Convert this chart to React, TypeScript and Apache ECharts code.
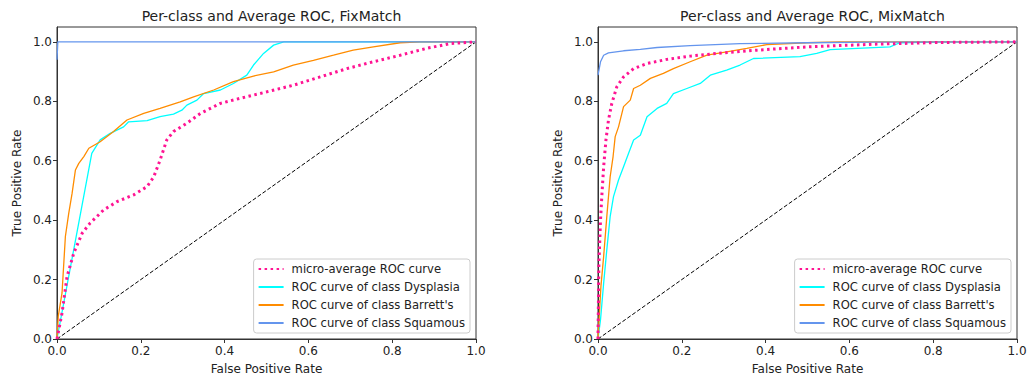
import React, { useEffect, useRef } from "react";
import * as echarts from "echarts";

const panelTitles = ["Per-class and Average ROC, FixMatch", "Per-class and Average ROC, MixMatch"];
const seriesNames = [
  "micro-average ROC curve",
  "ROC curve of class Dysplasia",
  "ROC curve of class Barrett's",
  "ROC curve of class Squamous",
];

// FixMatch
const fixMicro = [
  [0, 0], [0.012, 0.087], [0.024, 0.21], [0.04, 0.289], [0.06, 0.356], [0.079, 0.39],
  [0.111, 0.434], [0.143, 0.462], [0.183, 0.485], [0.215, 0.513], [0.231, 0.546],
  [0.246, 0.602], [0.262, 0.67], [0.278, 0.698], [0.31, 0.726], [0.342, 0.759],
  [0.39, 0.793], [0.437, 0.81], [0.501, 0.832], [0.564, 0.854], [0.628, 0.882],
  [0.692, 0.91], [0.755, 0.933], [0.819, 0.955], [0.882, 0.978], [0.938, 0.994], [1, 1],
];
const fixDysplasia = [
  [0, 0], [0.083, 0.625], [0.103, 0.67], [0.127, 0.692], [0.159, 0.714], [0.171, 0.731],
  [0.215, 0.735], [0.246, 0.748], [0.278, 0.757], [0.298, 0.77], [0.31, 0.787],
  [0.334, 0.804], [0.35, 0.826], [0.39, 0.838], [0.421, 0.86], [0.453, 0.888],
  [0.469, 0.922], [0.493, 0.961], [0.517, 0.989], [0.541, 1.0], [1, 1],
];
const fixBarretts = [
  [0, 0], [0.003, 0.076], [0.012, 0.155], [0.02, 0.345], [0.028, 0.423], [0.036, 0.49],
  [0.044, 0.569], [0.052, 0.591], [0.064, 0.614], [0.076, 0.642], [0.103, 0.664],
  [0.135, 0.698], [0.167, 0.737], [0.207, 0.759], [0.246, 0.776], [0.294, 0.798],
  [0.326, 0.815], [0.374, 0.838], [0.421, 0.866], [0.469, 0.885], [0.517, 0.899],
  [0.564, 0.922], [0.612, 0.938], [0.66, 0.955], [0.707, 0.972], [0.755, 0.983],
  [0.819, 0.997], [0.866, 1.0], [1, 1],
];
const fixSquamous = [[0, 0.94], [0.002, 1.0], [1, 1]];

// MixMatch
const mixMicro = [
  [0, 0], [0.002, 0.244], [0.006, 0.4], [0.0095, 0.49], [0.0135, 0.58], [0.019, 0.67],
  [0.025, 0.737], [0.033, 0.793], [0.045, 0.849], [0.061, 0.882], [0.085, 0.91],
  [0.117, 0.927], [0.164, 0.941], [0.22, 0.952], [0.299, 0.963], [0.379, 0.972],
  [0.498, 0.983], [0.657, 0.992], [0.816, 0.998], [1, 1],
];
const mixDysplasia = [
  [0, 0], [0.006, 0.065], [0.0135, 0.188], [0.021, 0.3], [0.029, 0.412], [0.037, 0.479],
  [0.049, 0.535], [0.061, 0.58], [0.073, 0.625], [0.085, 0.67], [0.101, 0.686],
  [0.117, 0.748], [0.141, 0.776], [0.164, 0.793], [0.18, 0.826], [0.212, 0.843],
  [0.244, 0.86], [0.268, 0.888], [0.307, 0.905], [0.339, 0.922], [0.371, 0.944],
  [0.482, 0.95], [0.522, 0.961], [0.554, 0.974], [0.697, 0.983], [0.72, 0.997],
  [0.816, 1.0], [1, 1],
];
const mixBarretts = [
  [0, 0], [0.003, 0.076], [0.007, 0.177], [0.0135, 0.278], [0.021, 0.412], [0.029, 0.546],
  [0.036, 0.614], [0.041, 0.681], [0.049, 0.714], [0.061, 0.782], [0.077, 0.804],
  [0.085, 0.843], [0.101, 0.854], [0.125, 0.877], [0.156, 0.894], [0.18, 0.91],
  [0.22, 0.933], [0.26, 0.955], [0.307, 0.966], [0.355, 0.978], [0.403, 0.991],
  [0.498, 0.997], [0.577, 1.0], [1, 1],
];
const mixSquamous = [
  [0, 0.888], [0.006, 0.933], [0.0135, 0.955], [0.025, 0.963], [0.061, 0.97],
  [0.101, 0.975], [0.141, 0.981], [0.22, 0.987], [0.339, 0.994], [0.498, 0.997],
  [0.657, 0.999], [1, 1],
];
const chanceLine = [[0, 0], [1, 1]];

const panels = [
  [fixMicro, fixDysplasia, fixBarretts, fixSquamous],
  [mixMicro, mixDysplasia, mixBarretts, mixSquamous],
];

const colors = ["#ff1493", "#00ffff", "#ff8c00", "#6495ed"];

export default function App() {
  const ref = useRef<HTMLDivElement>(null);
  useEffect(() => {
    document.body.style.margin = "0";
    const chart = echarts.init(ref.current!, null, { renderer: "svg" });
    const gridLefts = [57, 598];
    const font = "DejaVu Sans";
    const txt = "#222";
    const grids = gridLefts.map((l) => ({
      left: l, top: 27, width: 419, height: 312, show: true,
      borderColor: "#333", borderWidth: 1, backgroundColor: "#fff",
    }));
    const xAxes = gridLefts.map((_, i) => ({
      type: "value", gridIndex: i, min: 0, max: 1, interval: 0.2,
      name: "False Positive Rate", nameLocation: "middle", nameGap: 24,
      nameTextStyle: { fontFamily: font, fontSize: 12, color: txt },
      axisLine: { show: true, onZero: false, lineStyle: { color: "#333" } },
      axisTick: { show: true, length: 4, lineStyle: { color: "#333" } },
      axisLabel: { fontFamily: font, fontSize: 12, color: txt, margin: 6,
        formatter: (v: number) => v.toFixed(1) },
      splitLine: { show: false },
    }));
    const yAxes = gridLefts.map((_, i) => ({
      type: "value", gridIndex: i, min: 0, max: 1.05, interval: 0.2,
      name: "True Positive Rate", nameLocation: "middle", nameGap: 34,
      nameTextStyle: { fontFamily: font, fontSize: 12, color: txt },
      axisLine: { show: true, onZero: false, lineStyle: { color: "#333" } },
      axisTick: { show: true, length: 4, lineStyle: { color: "#333" } },
      axisLabel: { fontFamily: font, fontSize: 12, color: txt, margin: 5, showMaxLabel: false,
        formatter: (v: number) => (v > 1.01 ? "" : v.toFixed(1)) },
      splitLine: { show: false },
    }));
    const series: any[] = [];
    panels.forEach((curves, p) => {
      series.push({
        type: "line", name: "chance", xAxisIndex: p, yAxisIndex: p, data: chanceLine,
        symbol: "none", silent: true,
        lineStyle: { color: "#000", width: 1, type: [4, 2] }, z: 1,
      });
      curves.forEach((d, k) => {
        series.push({
          type: "line", name: seriesNames[k], xAxisIndex: p, yAxisIndex: p, data: d,
          symbol: "none", z: 2 + (k === 0 ? 4 : k),
          itemStyle: { color: colors[k] },
          lineStyle: k === 0
            ? { color: colors[k], width: 3, type: [2.5, 3.5], cap: "butt" }
            : { color: colors[k], width: 1.3 },
        });
      });
    });
    chart.setOption({
      animation: false,
      title: panelTitles.map((t, i) => ({
        text: t, left: gridLefts[i] + 209.5, top: 4, textAlign: "center",
        textStyle: { fontFamily: font, fontSize: 14, fontWeight: "normal", color: txt },
      })),
      grid: grids,
      xAxis: xAxes,
      yAxis: yAxes,
      legend: gridLefts.map((l, i) => ({
        data: seriesNames, orient: "vertical", right: 1033 - (l + 419) + 6, top: 259,
        itemWidth: 25, itemHeight: 10, itemGap: 4,
        itemStyle: { opacity: 0 },
        backgroundColor: "#fff", borderColor: "#ccc", borderWidth: 1, borderRadius: 3,
        padding: [3, 5, 3, 4],
        selectedMode: false,
        textStyle: { fontFamily: font, fontSize: 11.6, color: txt, lineHeight: 14, padding: [0, 0, 0, 3] },
      })),
      series,
    });
    return () => chart.dispose();
  }, []);
  return <div ref={ref} style={{ width: 1033, height: 384 }} />;
}
